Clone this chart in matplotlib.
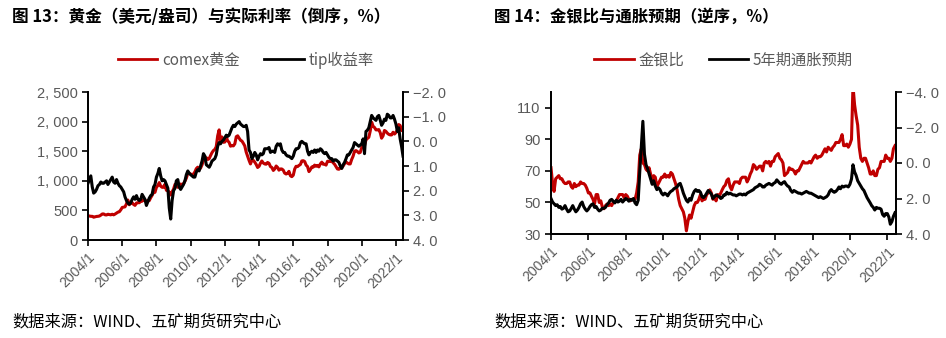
import matplotlib
matplotlib.use("Agg")
import matplotlib.pyplot as plt
import matplotlib.ticker as mticker
import matplotlib.dates as mdates
from matplotlib.lines import Line2D
import numpy as np
import pandas as pd

plt.rcParams['font.family'] = ['Liberation Sans', 'Noto Sans CJK SC', 'DejaVu Sans']

# monthly series, 2004/1 .. 2022/6
dates = pd.date_range("2004-01-01", "2022-06-01", freq="MS")

# COMEX gold, USD/oz
gold = [
    410, 405, 400, 400, 385, 392, 398, 400, 405, 420, 440, 440,
    425, 423, 435, 430, 425, 435, 425, 438, 455, 470, 478, 510,
    550, 555, 560, 610, 675, 595, 630, 630, 600, 585, 625, 630,
    630, 665, 655, 680, 665, 655, 665, 665, 715, 755, 805, 805,
    890, 920, 970, 910, 890, 890, 940, 840, 830, 810, 760, 815,
    860, 940, 925, 890, 930, 945, 935, 950, 995, 1045, 1125, 1130,
    1115, 1095, 1115, 1150, 1205, 1230, 1190, 1215, 1270, 1345, 1370, 1390,
    1360, 1375, 1425, 1475, 1510, 1530, 1575, 1760, 1860, 1660, 1740, 1650,
    1655, 1740, 1675, 1650, 1585, 1595, 1590, 1625, 1745, 1760, 1720, 1685,
    1670, 1630, 1590, 1485, 1415, 1345, 1285, 1350, 1345, 1315, 1275, 1225,
    1245, 1300, 1335, 1300, 1285, 1280, 1310, 1295, 1240, 1225, 1175, 1200,
    1250, 1225, 1180, 1200, 1200, 1180, 1130, 1115, 1125, 1160, 1085, 1070,
    1095, 1200, 1245, 1240, 1260, 1275, 1335, 1340, 1325, 1265, 1240, 1155,
    1190, 1235, 1230, 1265, 1245, 1260, 1235, 1285, 1315, 1280, 1280, 1265,
    1330, 1330, 1325, 1335, 1305, 1280, 1240, 1200, 1195, 1215, 1220, 1250,
    1290, 1320, 1300, 1285, 1285, 1360, 1415, 1500, 1510, 1495, 1470, 1480,
    1560, 1600, 1590, 1690, 1715, 1735, 1840, 1990, 1920, 1900, 1860, 1860,
    1865, 1810, 1720, 1760, 1850, 1835, 1805, 1785, 1775, 1775, 1820, 1790,
    1815, 1860, 1950, 1935, 1850, 1845,
]

# 10y TIPS real yield, %
tips = [
    1.70, 1.55, 1.40, 1.85, 2.10, 2.05, 1.95, 1.80, 1.75, 1.65, 1.70, 1.70,
    1.65, 1.60, 1.75, 1.65, 1.55, 1.45, 1.65, 1.70, 1.55, 1.70, 1.80, 1.85,
    1.95, 2.05, 2.25, 2.40, 2.50, 2.55, 2.50, 2.35, 2.25, 2.35, 2.20, 2.35,
    2.40, 2.35, 2.15, 2.25, 2.35, 2.60, 2.45, 2.30, 2.20, 2.15, 1.85, 1.75,
    1.45, 1.30, 1.10, 1.40, 1.60, 1.55, 1.60, 1.75, 1.90, 2.70, 3.15, 2.40,
    2.00, 1.90, 1.60, 1.55, 1.85, 1.95, 1.85, 1.75, 1.60, 1.35, 1.20, 1.30,
    1.35, 1.40, 1.45, 1.45, 1.25, 1.15, 1.20, 1.00, 0.80, 0.50, 0.60, 0.95,
    1.00, 1.05, 0.95, 0.80, 0.75, 0.70, 0.55, 0.20, 0.05, 0.10, 0.00, -0.05,
    -0.15, -0.25, -0.20, -0.25, -0.40, -0.55, -0.65, -0.60, -0.70, -0.75, -0.80, -0.70,
    -0.65, -0.60, -0.60, -0.65, -0.40, 0.35, 0.45, 0.70, 0.60, 0.45, 0.55, 0.75,
    0.60, 0.50, 0.55, 0.50, 0.30, 0.30, 0.30, 0.25, 0.45, 0.40, 0.40, 0.45,
    0.20, 0.10, 0.15, 0.10, 0.35, 0.45, 0.45, 0.55, 0.60, 0.60, 0.65, 0.70,
    0.60, 0.40, 0.30, 0.30, 0.25, 0.05, 0.00, 0.05, 0.10, 0.10, 0.40, 0.55,
    0.45, 0.40, 0.45, 0.35, 0.45, 0.35, 0.40, 0.30, 0.35, 0.45, 0.50, 0.45,
    0.55, 0.65, 0.70, 0.70, 0.80, 0.75, 0.75, 0.80, 0.85, 1.00, 1.10, 0.95,
    0.85, 0.70, 0.55, 0.55, 0.45, 0.35, 0.25, 0.05, 0.10, 0.15, 0.20, 0.15,
    0.10, -0.10, 0.50, -0.40, -0.45, -0.55, -0.80, -1.05, -0.95, -0.90, -0.85, -1.00,
    -1.05, -0.85, -0.65, -0.75, -0.90, -0.85, -1.10, -1.05, -0.95, -0.95, -1.05, -0.90,
    -0.70, -0.40, -0.55, -0.10, 0.20, 0.60,
]

# gold / silver ratio
gsr = [
    72, 62, 57, 65, 66, 67, 65, 65, 63, 62, 62, 63,
    63, 60, 59, 62, 60, 61, 61, 63, 62, 62, 61, 59,
    56, 56, 54, 52, 49, 55, 55, 50, 51, 47, 46, 48,
    49, 48, 49, 48, 50, 50, 51, 53, 55, 55, 55, 53,
    55, 54, 52, 51, 52, 52, 52, 56, 63, 80, 84, 75,
    74, 71, 70, 72, 68, 64, 67, 66, 60, 62, 64, 66,
    66, 68, 66, 67, 66, 69, 68, 65, 62, 58, 52, 48,
    46, 44, 40, 32, 38, 42, 40, 44, 48, 50, 50, 52,
    55, 51, 52, 52, 55, 56, 58, 56, 52, 54, 51, 55,
    54, 56, 58, 60, 61, 64, 65, 60, 58, 61, 63, 63,
    63, 62, 65, 66, 66, 66, 63, 65, 68, 70, 74, 73,
    71, 72, 73, 73, 70, 75, 76, 75, 76, 73, 76, 76,
    79, 80, 81, 78, 77, 75, 67, 68, 69, 72, 71, 71,
    70, 68, 70, 70, 72, 74, 76, 75, 75, 75, 76, 75,
    77, 79, 80, 78, 79, 79, 80, 82, 84, 82, 85, 84,
    83, 85, 86, 88, 88, 88, 90, 93, 86, 86, 87, 85,
    87, 90, 124, 112, 105, 99, 85, 78, 76, 78, 78, 75,
    72, 68, 68, 70, 67, 67, 71, 72, 76, 76, 76, 80,
    78, 78, 76, 78, 84, 86,
]

# 5y breakeven inflation, %
bei = [
    2.00, 2.20, 2.30, 2.40, 2.35, 2.50, 2.45, 2.60, 2.55, 2.40, 2.60, 2.75,
    2.70, 2.55, 2.40, 2.60, 2.75, 2.65, 2.50, 2.30, 2.20, 2.45, 2.60, 2.70,
    2.60, 2.45, 2.35, 2.30, 2.50, 2.45, 2.60, 2.70, 2.65, 2.55, 2.55, 2.50,
    2.35, 2.25, 2.10, 2.05, 2.15, 2.25, 2.10, 2.20, 2.15, 2.05, 2.20, 2.10,
    2.00, 2.05, 2.15, 2.05, 2.10, 2.00, 2.25, 2.35, 2.10, 0.50, -0.90, -2.35,
    -0.50, 0.10, 0.30, 0.60, 0.90, 1.20, 1.00, 1.30, 1.50, 1.40, 1.50, 1.70,
    1.80, 1.70, 1.75, 1.85, 1.70, 1.60, 1.55, 1.45, 1.40, 1.35, 1.20, 1.15,
    1.40, 1.70, 1.90, 2.10, 2.20, 2.00, 2.10, 1.80, 1.60, 1.50, 1.60, 1.55,
    1.65, 1.90, 1.95, 1.85, 1.70, 1.55, 1.65, 1.75, 2.00, 1.90, 1.80, 1.85,
    1.90, 2.00, 1.95, 1.80, 1.80, 1.65, 1.75, 1.70, 1.75, 1.80, 1.80, 1.85,
    1.80, 1.75, 1.75, 1.80, 1.75, 1.80, 1.70, 1.65, 1.60, 1.55, 1.50, 1.40,
    1.35, 1.30, 1.20, 1.25, 1.35, 1.35, 1.25, 1.20, 1.15, 1.20, 1.25, 1.15,
    1.10, 0.95, 1.05, 1.15, 1.20, 1.10, 1.05, 1.20, 1.30, 1.35, 1.55, 1.65,
    1.55, 1.60, 1.65, 1.70, 1.70, 1.75, 1.70, 1.65, 1.60, 1.65, 1.70, 1.70,
    1.75, 1.80, 1.85, 1.90, 1.95, 1.90, 1.95, 2.00, 1.95, 1.90, 1.80, 1.60,
    1.50, 1.60, 1.65, 1.60, 1.50, 1.35, 1.45, 1.30, 1.35, 1.30, 1.30, 1.35,
    1.20, 0.90, 0.10, 0.50, 0.70, 1.00, 1.15, 1.30, 1.45, 1.55, 1.75, 1.95,
    2.10, 2.25, 2.40, 2.50, 2.65, 2.50, 2.55, 2.55, 2.60, 2.90, 3.00, 2.85,
    2.85, 3.05, 3.45, 3.30, 3.00, 2.80,
]

tick_years = list(range(2004, 2023, 2))

RED = "#C00000"
GREY = "#595959"
LW = 2.2


def thousands(v, pos):
    return f"{v:,.0f}".replace(",", ", ")


def one_dec(v, pos):
    return f"{v:.1f}".replace(".", ". ").replace("-", "\u2212")


def style_axes(ax, ax2):
    for a in (ax, ax2):
        a.spines['top'].set_visible(False)
        for s in ('left', 'right', 'bottom'):
            a.spines[s].set_linewidth(1.3)
        a.tick_params(axis='both', colors='black', labelcolor=GREY,
                      labelsize=10.5, width=1.2, length=4)
    ax.xaxis.set_major_locator(mticker.FixedLocator(
        [mdates.date2num(pd.Timestamp(f"{y}-01-01")) for y in tick_years]))
    ax.set_xticklabels([f"{y}/1" for y in tick_years], rotation=45,
                       ha='right', rotation_mode='anchor', fontsize=10)


fig = plt.figure(figsize=(9.46, 3.38), dpi=100)

# left panel: gold vs real yield
ax1 = fig.add_axes([88 / 946, 98 / 338, 315 / 946, 148 / 338])
ax1.plot(dates, gold, color=RED, lw=LW)
ax1.set_ylim(0, 2500)
ax1.yaxis.set_major_locator(mticker.MultipleLocator(500))
ax1.yaxis.set_major_formatter(mticker.FuncFormatter(thousands))
ax1.set_xlim(pd.Timestamp("2004-01-01"), pd.Timestamp("2022-06-01"))
ax1b = ax1.twinx()
ax1b.plot(dates, tips, color='black', lw=LW)
ax1b.set_ylim(4, -2)
ax1b.yaxis.set_major_locator(mticker.MultipleLocator(1))
ax1b.yaxis.set_major_formatter(mticker.FuncFormatter(one_dec))
style_axes(ax1, ax1b)

# right panel: gold/silver ratio vs breakeven
ax2 = fig.add_axes([551 / 946, 104 / 338, 345 / 946, 142 / 338])
ax2.plot(dates, gsr, color=RED, lw=LW)
ax2.set_ylim(30, 120)
ax2.set_yticks([30, 50, 70, 90, 110])
ax2.set_xlim(pd.Timestamp("2004-01-01"), pd.Timestamp("2022-06-20"))
ax2b = ax2.twinx()
ax2b.plot(dates, bei, color='black', lw=LW)
ax2b.set_ylim(4, -4)
ax2b.set_yticks([-4, -2, 0, 2, 4])
ax2b.yaxis.set_major_formatter(mticker.FuncFormatter(one_dec))
style_axes(ax2, ax2b)

# legends
for ax, labels in ((ax1, ["comex黄金", "tip收益率"]), (ax2, ["金银比", "5年期通胀预期"])):
    handles = [Line2D([], [], color=RED, lw=2), Line2D([], [], color='black', lw=2)]
    pos = ax.get_position()
    leg = ax.legend(handles, labels, loc='center',
                    bbox_to_anchor=((pos.x0 + pos.x1) / 2, 1 - 60 / 338),
                    bbox_transform=fig.transFigure, ncol=2, frameon=False,
                    fontsize=11, handlelength=2.6, handletextpad=0.3,
                    columnspacing=1.6)
    for t in leg.get_texts():
        t.set_color(GREY)
        t.set_family(['Noto Sans CJK SC', 'DejaVu Sans'])

# titles and source notes
cjk = ['Noto Sans CJK SC', 'DejaVu Sans']
fig.text(12 / 946, 1 - 17 / 338, "图 13：黄金（美元/盎司）与实际利率（倒序，%）",
         fontsize=12, fontweight='bold', family=cjk, va='center', ha='left')
fig.text(494 / 946, 1 - 17 / 338, "图 14：金银比与通胀预期（逆序，%）",
         fontsize=11.8, fontweight='bold', family=cjk, va='center', ha='left')
fig.text(12 / 946, 1 - 322 / 338, "数据来源：WIND、五矿期货研究中心",
         fontsize=11.7, family=cjk, va='center', ha='left')
fig.text(494 / 946, 1 - 322 / 338, "数据来源：WIND、五矿期货研究中心",
         fontsize=11.7, family=cjk, va='center', ha='left')

fig.savefig("out.png", dpi=100)
